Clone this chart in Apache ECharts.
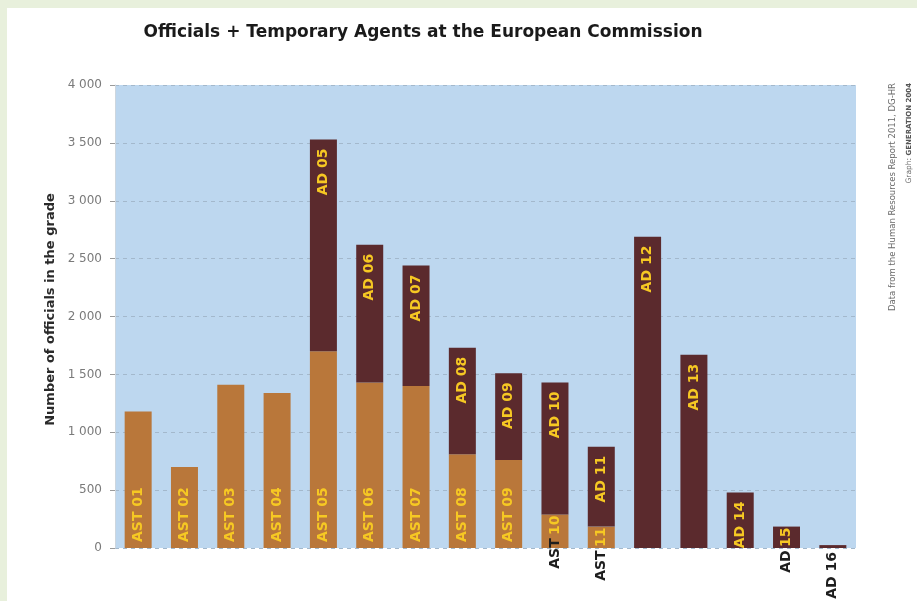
<!DOCTYPE html>
<html>
<head>
<meta charset="utf-8">
<script src="https://cdn.jsdelivr.net/npm/echarts@6/dist/echarts.min.js"></script>
<style>
html,body{margin:0;padding:0;background:#e8f0dc;}
#wrap{position:absolute;left:7px;top:8px;width:910px;height:593px;background:#ffffff;}
#chart{position:absolute;left:-7px;top:-8px;width:917px;height:601px;}
</style>
</head>
<body>
<div id="wrap"><div id="chart"></div></div>
<script>
// ---- data ----
const grades = ['01','02','03','04','05','06','07','08','09','10','11','12','13','14','15','16'];
const astValues = [1180, 700, 1410, 1340, 1700, 1430, 1400, 810, 760, 290, 185, 0, 0, 0, 0, 0];
const adValues  = [0, 0, 0, 0, 1830, 1190, 1040, 920, 750, 1140, 690, 2690, 1670, 480, 185, 25];
const astLabels = ['AST 01','AST 02','AST 03','AST 04','AST 05','AST 06','AST 07','AST 08','AST 09','AST 10','AST 11','','','','',''];
const adLabels  = ['','','','','AD 05','AD 06','AD 07','AD 08','AD 09','AD 10','AD 11','AD 12','AD 13','AD 14','AD 15','AD 16'];
const yTicks = [0, 500, 1000, 1500, 2000, 2500, 3000, 3500, 4000];

const FONT = 'DejaVu Sans';
const YELLOW = '#f6c823';
const DARK = '#1e1e1e';

function fmtThousands(v){
  if (v >= 1000) { const r = v % 1000; return Math.floor(v/1000) + ' ' + String(r).padStart(3,'0'); }
  return String(v);
}

function buildData(values, labels){
  return values.map((v, i) => {
    const txt = labels[i];
    const item = { value: v };
    if (!txt) { item.label = { show: false }; return item; }
    const parts = txt.split(' ');
    if (v < 100) {
      item.label = { show: true, position: 'bottom', distance: 4, align: 'right', verticalAlign: 'middle',
        formatter: '{o|' + txt + '}' };
    } else if (v < 400) {
      item.label = { show: true, position: 'insideTop', distance: 1, align: 'right', verticalAlign: 'middle',
        formatter: '{o|' + parts[0] + '} {i|' + parts[1] + '}' };
    } else {
      item.label = { show: true, formatter: '{i|' + txt + '}' };
    }
    return item;
  });
}

const richStyles = {
  i: { color: YELLOW, fontFamily: FONT, fontWeight: 'bold', fontSize: 14 },
  o: { color: DARK, fontFamily: FONT, fontWeight: 'bold', fontSize: 14 }
};

const chart = echarts.init(document.getElementById('chart'), null, { renderer: 'canvas' });
chart.setOption({
  backgroundColor: 'transparent',
  animation: false,
  title: {
    text: 'Officials + Temporary Agents at the European Commission',
    left: 418, top: 19, textAlign: 'center',
    textStyle: { fontFamily: FONT, fontWeight: 'bold', fontSize: 17, color: '#1a1a1a' }
  },
  grid: { left: 115, right: 61, top: 85, bottom: 53, show: true, backgroundColor: '#bdd7ef', borderWidth: 0 },
  xAxis: {
    type: 'category', data: grades,
    axisLine: { show: false }, axisTick: { show: false }, axisLabel: { show: false }, splitLine: { show: false }
  },
  yAxis: {
    type: 'value', min: 0, max: 4000, interval: 500,
    name: 'Number of officials in the grade',
    nameLocation: 'middle', nameRotate: 90, nameGap: 58,
    nameTextStyle: { fontFamily: FONT, fontSize: 13, fontWeight: 'bold', color: '#2a2a2a', padding: [0, 0, 0, 14] },
    axisLine: { show: true, lineStyle: { color: '#cdd6de', width: 1 } },
    axisTick: { show: true, length: 5, lineStyle: { color: '#9a9a9a' } },
    axisLabel: { fontFamily: FONT, fontSize: 12, color: '#7a7a7a', margin: 13,
      formatter: v => yTicks.includes(v) ? fmtThousands(v) : '' },
    splitLine: { show: true, lineStyle: { color: '#a3b8cc', type: [4, 4], width: 1 } }
  },
  series: [
    {
      name: 'AST', type: 'bar', stack: 'total', barWidth: 27,
      itemStyle: { color: '#b9773a' },
      label: { show: true, position: 'insideBottom', rotate: 90, align: 'left', verticalAlign: 'middle', distance: 6, rich: richStyles },
      data: buildData(astValues, astLabels)
    },
    {
      name: 'AD', type: 'bar', stack: 'total', barWidth: 27,
      itemStyle: { color: '#5b2a2d' },
      label: { show: true, position: 'insideTop', rotate: 90, align: 'right', verticalAlign: 'middle', distance: 9, rich: richStyles },
      data: buildData(adValues, adLabels)
    }
  ],
  graphic: [
    { type: 'text', x: 893, y: 83, rotation: Math.PI / 2,
      style: { text: 'Data from the Human Resources Report 2011, DG-HR', fontFamily: FONT, fontSize: 8.5, fill: '#6a6a6a', align: 'right', verticalAlign: 'middle' } },
    { type: 'text', x: 909, y: 83, rotation: Math.PI / 2,
      style: { text: '{n|Graph: }{b|GENERATION 2004}', fontFamily: FONT, fontSize: 7.5, fill: '#6a6a6a', align: 'right', verticalAlign: 'middle',
        rich: { n: { fontFamily: FONT, fontSize: 7.5, fill: '#6a6a6a' }, b: { fontFamily: FONT, fontSize: 7, fontWeight: 'bold', fill: '#555' } } } }
  ]
});
</script>
</body>
</html>
